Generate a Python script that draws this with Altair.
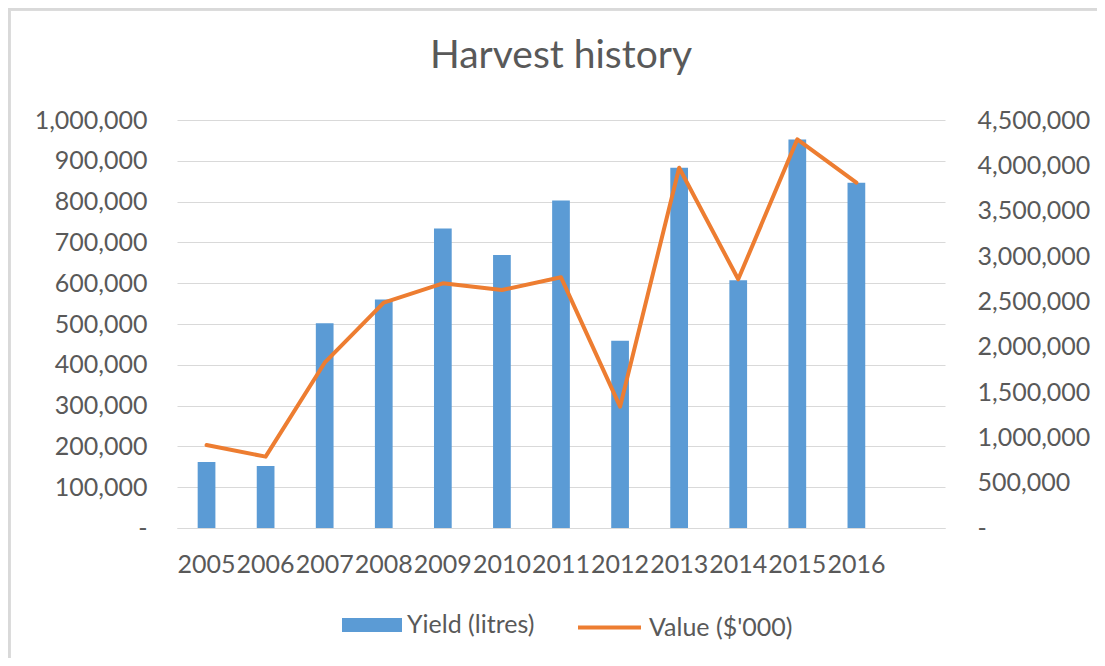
import altair as alt
import pandas as pd

years = ["2005", "2006", "2007", "2008", "2009", "2010", "2011", "2012", "2013", "2014", "2015", "2016"]
yield_litres = [162000, 152000, 502000, 560000, 734000, 669000, 803000, 459000, 883000, 607000, 952000, 846000]
value_k = [915000, 787000, 1823000, 2485000, 2699000, 2625000, 2765000, 1338000, 3974000, 2743000, 4287000, 3809000]
x_domain = years + [""]
left_ticks = [0, 100000, 200000, 300000, 400000, 500000, 600000, 700000, 800000, 900000, 1000000]
right_ticks = [0, 500000, 1000000, 1500000, 2000000, 2500000, 3000000, 3500000, 4000000, 4500000]

df = pd.DataFrame({
    "year": years,
    "yield": yield_litres,
    "value": value_k,
    "s1": ["Yield (litres)"] * len(years),
    "s2": ["Value ($'000)"] * len(years),
})

FONT = "Lato"
GREY = "#595959"
GRID = "#D9D9D9"
BLUE = "#5B9BD5"
ORANGE = "#ED7D31"

x = alt.X("year:N", scale=alt.Scale(domain=x_domain, paddingInner=0, paddingOuter=0),
          axis=alt.Axis(title=None, labelAngle=0, labelOverlap=False, ticks=False,
                        domainColor=GRID, labelPadding=24, labelFontSize=25))

bars = alt.Chart(df).mark_bar(width={"band": 0.3}, color=BLUE).encode(
    x=x,
    y=alt.Y("yield:Q", scale=alt.Scale(domain=[0, 1000000], nice=False),
            axis=alt.Axis(title=None, values=left_ticks, grid=True, gridColor=GRID,
                          ticks=False, domain=False, labelPadding=30,
                          labelExpr="datum.value == 0 ? '-\u00a0\u00a0\u00a0' : format(datum.value, ',')")),
    color=alt.Color("s1:N", scale=alt.Scale(domain=["Yield (litres)"], range=[BLUE]),
                    legend=alt.Legend(title=None, orient="none", legendX=165, legendY=475,
                                      symbolType="M-1,-0.233H1V0.233H-1Z", symbolSize=3600,
                                      symbolStrokeWidth=0, symbolOpacity=1, labelOffset=5,
                                      padding=0, labelFontSize=25)),
)

line = alt.Chart(df).mark_line(color=ORANGE, strokeWidth=4, strokeCap="round", strokeJoin="round").encode(
    x=x,
    y=alt.Y("value:Q", scale=alt.Scale(domain=[0, 4500000], nice=False),
            axis=alt.Axis(title=None, orient="right", values=right_ticks, grid=False,
                          ticks=False, domain=False, labelPadding=32,
                          labelExpr="datum.value == 0 ? '-' : format(datum.value, ',')")),
    stroke=alt.Stroke("s2:N", scale=alt.Scale(domain=["Value ($'000)"], range=[ORANGE]),
                      legend=alt.Legend(title=None, orient="none", legendX=399, legendY=474,
                                        symbolType="stroke", symbolSize=3969, symbolStrokeWidth=4,
                                        labelOffset=6, padding=0, labelFontSize=25)),
)

border_left = alt.Chart(df).mark_rule(color=GRID, strokeWidth=2.5).encode(
    x=alt.value(-168), y=alt.value(-112), y2=alt.value(538))
border_top = alt.Chart(df).mark_rule(color=GRID, strokeWidth=2.5).encode(
    x=alt.value(-169), x2=alt.value(920), y=alt.value(-111))

chart = alt.layer(bars, line, border_left, border_top).resolve_scale(y="independent").properties(
    width=768, height=408,
    title=alt.TitleParams("Harvest history", fontSize=39, font=FONT, color=GREY,
                          fontWeight="normal", anchor="middle", offset=0,
                          baseline="alphabetic", dy=100),
    autosize=alt.AutoSizeParams(type="none"),
    padding={"left": 169, "top": 112, "right": 152, "bottom": 130},
).configure(font=FONT).configure_view(stroke=None).configure_axis(
    labelFont=FONT, labelColor=GREY, labelFontSize=25,
).configure_legend(labelFont=FONT, labelColor=GREY, labelFontSize=25)

chart.save("out.html", embed_options={"renderer": "svg", "actions": False})
